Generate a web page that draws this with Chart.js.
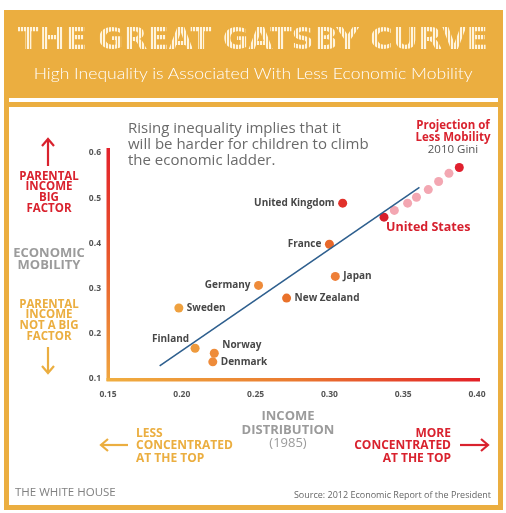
<!DOCTYPE html>
<html><head><meta charset="utf-8">
<script src="https://cdn.jsdelivr.net/npm/chart.js@4.4.0/dist/chart.umd.min.js"></script>
<style>
html,body{margin:0;padding:0;}
body{width:506px;height:513px;overflow:hidden;background:#fff;position:relative;font-family:"Open Sans",sans-serif;}
.abs{position:absolute;}
.t{position:absolute;white-space:nowrap;}
.b{font-weight:700;}
#title{left:0;top:20px;width:506px;text-align:center;font-family:"DejaVu Sans",sans-serif;font-weight:700;font-size:31px;line-height:36px;}
#title span{display:inline-block;color:transparent;background:repeating-linear-gradient(90deg,#fff4dc 0 2px,#EDB552 2px 3px);-webkit-background-clip:text;background-clip:text;transform-origin:center;}
#sub{left:0;top:62px;width:506px;text-align:center;color:#fff;font-family:Lato,sans-serif;font-weight:300;font-size:16.5px;line-height:22px;}
#sub span{display:inline-block;transform-origin:center;}
</style></head>
<body>
<div class="abs" style="left:4px;top:10px;width:499px;height:500px;background:#EBAE40"></div>
<div class="abs" style="left:9px;top:98px;width:489px;height:4px;background:#fff"></div>
<div class="abs" style="left:9px;top:107px;width:489px;height:398px;background:#fff"></div>
<canvas id="c" width="506" height="513" style="position:absolute;left:0;top:0"></canvas>

<div id="title" class="t"><span id="titleSpan">THE GREAT GATSBY CURVE</span></div>
<div id="sub" class="t"><span id="subSpan">High Inequality is Associated With Less Economic Mobility</span></div>

<div class="t" style="left:128px;top:119px;font-size:15px;line-height:16px;color:#6a6a6a;">Rising inequality implies that it<br>will be harder for children to climb<br>the economic ladder.</div>

<div class="t b" style="left:403px;width:100px;text-align:center;top:119px;font-size:11.5px;line-height:12px;color:#d9222e;">Projection of<br>Less Mobility</div>
<div class="t" style="left:403px;width:100px;text-align:center;top:143px;font-size:11.5px;line-height:12px;color:#555;">2010 Gini</div>

<svg class="abs" style="left:0;top:0" width="506" height="513">
  <g stroke="#d9222e" stroke-width="2.2" fill="none">
    <line x1="48" y1="166" x2="48" y2="140"/>
    <polyline points="42,146 48,139 54,146"/>
    <line x1="460" y1="445" x2="487" y2="445"/>
    <polyline points="481,439 488,445 481,451"/>
  </g>
  <g stroke="#EBAE40" stroke-width="2.2" fill="none">
    <line x1="48" y1="347" x2="48" y2="372"/>
    <polyline points="42,366 48,373 54,366"/>
    <line x1="102" y1="445" x2="128" y2="445"/>
    <polyline points="108,439 101,445 108,451"/>
  </g>
</svg>

<div class="t b" style="left:0;width:98px;text-align:center;top:170.5px;font-size:11.5px;line-height:10.7px;color:#d9222e;">PARENTAL<br>INCOME<br>BIG<br>FACTOR</div>
<div class="t b" style="left:0;width:98px;text-align:center;top:245.5px;font-size:13px;line-height:12.5px;color:#9b9b9b;">ECONOMIC<br>MOBILITY</div>
<div class="t b" style="left:0;width:98px;text-align:center;top:298.5px;font-size:11.5px;line-height:10.7px;color:#EBAE40;">PARENTAL<br>INCOME<br>NOT A BIG<br>FACTOR</div>

<div class="t" style="left:228px;width:120px;text-align:center;top:409px;font-size:13px;line-height:13.5px;color:#9b9b9b;"><span class="b">INCOME<br>DISTRIBUTION</span><br>(1985)</div>
<div class="t b" style="left:136px;top:427px;font-size:12px;line-height:12.3px;color:#EBAE40;">LESS<br>CONCENTRATED<br>AT THE TOP</div>
<div class="t b" style="left:331px;width:120px;text-align:right;top:427px;font-size:12px;line-height:12.3px;color:#d9222e;">MORE<br>CONCENTRATED<br>AT THE TOP</div>

<div class="t" style="left:15px;top:484px;font-size:11.5px;line-height:16px;color:#808080;">THE WHITE HOUSE</div>
<div class="t" style="left:291px;width:200px;text-align:right;top:488px;font-size:9px;line-height:14px;color:#666;">Source: 2012 Economic Report of the President</div>

<script>
// ---- data ----
const countries = ['Sweden','Finland','Norway','Denmark','Germany','New Zealand','Japan','France','United Kingdom'];
const gini1985 = [0.198,0.209,0.222,0.221,0.252,0.271,0.304,0.300,0.309];
const earningsElasticity = [0.257,0.168,0.157,0.138,0.307,0.279,0.327,0.398,0.489];
const countryColors = ['#EFA13F','#EE9A3D','#EE8C3A','#EE8B3A','#EE8B3A','#E9722B','#EE7F38','#E8682A','#E1302A'];
const labelSide = ['right','above-left','above-right','right','left','right','right','left','left'];

const usLabel = 'United States';
const usGini = [0.337];
const usElasticity = [0.458];

const projectionGini = [0.344,0.353,0.359,0.367,0.374,0.381,0.388];
const projectionElasticity = [0.473,0.489,0.502,0.519,0.537,0.555,0.568];
const projectionColors = ['#F3A7B2','#F3A7B2','#F3A7B2','#F3A7B2','#F3A7B2','#F3A7B2','#E0202E'];

const trendGini = [0.185,0.361];
const trendElasticity = [0.129,0.524];

const xTicks = [0.15,0.20,0.25,0.30,0.35,0.40];
const xTickLabels = ['0.15','0.20','0.25','0.30','0.35','0.40'];
const yTicks = [0.1,0.2,0.3,0.4,0.5,0.6];
const yTickLabels = ['0.1','0.2','0.3','0.4','0.5','0.6'];

// fit title texts
function fit(id, w){const el=document.getElementById(id);const r=el.getBoundingClientRect().width;el.style.transform='scaleX('+(w/r)+')';}
fit('titleSpan',470); fit('subSpan',439);

const zip = (xs,ys)=>xs.map((x,i)=>({x:x,y:ys[i]}));

const axisBars = {
  id:'axisBars',
  beforeDatasetsDraw(chart){
    const {ctx, chartArea:a} = chart;
    ctx.save();
    let g = ctx.createLinearGradient(0,a.top-5,0,a.bottom+2);
    g.addColorStop(0,'#E3212B'); g.addColorStop(0.45,'#E8552C'); g.addColorStop(1,'#F0A63F');
    ctx.fillStyle = g;
    ctx.fillRect(a.left-1.5,a.top-5,3.5,a.bottom-a.top+7);
    g = ctx.createLinearGradient(a.left,0,a.right+3,0);
    g.addColorStop(0,'#F0AE40'); g.addColorStop(0.5,'#EA7A30'); g.addColorStop(1,'#E21F26');
    ctx.fillStyle = g;
    ctx.fillRect(a.left-1.5,a.bottom-1,a.right-a.left+4.5,3.5);
    ctx.restore();
  }
};

const labels = {
  id:'labels',
  afterDatasetsDraw(chart){
    const ctx = chart.ctx;
    ctx.save();
    ctx.font = '700 10px "Open Sans"';
    ctx.fillStyle = '#474747';
    ctx.textBaseline = 'middle';
    chart.getDatasetMeta(1).data.forEach((p,i)=>{
      const s = labelSide[i];
      let x=p.x, y=p.y;
      if(s==='right'){ctx.textAlign='left'; x+=8;}
      else if(s==='left'){ctx.textAlign='right'; x-=8;}
      else if(s==='above-left'){ctx.textAlign='right'; x-=6; y-=9;}
      else if(s==='above-right'){ctx.textAlign='left'; x+=8; y-=8;}
      ctx.fillText(countries[i],x,y);
    });
    const us = chart.getDatasetMeta(2).data[0];
    ctx.font = '700 12.5px "Open Sans"';
    ctx.fillStyle = '#D6202E';
    ctx.textAlign='left';
    ctx.fillText(usLabel, us.x+2, us.y+10);
    ctx.restore();
  }
};

const tickFont = {family:'"Open Sans"', size:8.5, weight:'700'};

new Chart(document.getElementById('c'), {
  type:'scatter',
  data:{datasets:[
    {type:'line', data:zip(trendGini,trendElasticity), borderColor:'#2E5F8E', borderWidth:1.6, pointRadius:0, fill:false},
    {data:zip(gini1985,earningsElasticity), backgroundColor:countryColors, borderWidth:0, pointRadius:4.5},
    {data:zip(usGini,usElasticity), backgroundColor:'#D8202E', borderWidth:0, pointRadius:4.5},
    {data:zip(projectionGini,projectionElasticity), backgroundColor:projectionColors, borderWidth:0, pointRadius:4.5}
  ]},
  options:{
    responsive:false, animation:false, devicePixelRatio:1,
    layout:{padding:{top:153,right:29,left:0,bottom:0}},
    plugins:{legend:{display:false}, tooltip:{enabled:false}},
    scales:{
      x:{type:'linear', min:0.15, max:0.40,
        afterFit(s){s.height=134;},
        afterBuildTicks(s){s.ticks = xTicks.map(v=>({value:v}));},
        grid:{display:false, drawTicks:false}, border:{display:false},
        ticks:{padding:10, color:'#555', font:tickFont, maxRotation:0, autoSkip:false, callback:(v,i)=>xTickLabels[i]}},
      y:{type:'linear', min:0.1, max:0.6,
        afterFit(s){s.width=108;},
        afterBuildTicks(s){s.ticks = yTicks.map(v=>({value:v}));},
        grid:{display:false, drawTicks:false}, border:{display:false},
        ticks:{padding:7, color:'#555', font:tickFont, autoSkip:false, callback:(v,i)=>yTickLabels[i]}}
    }
  },
  plugins:[axisBars, labels]
});
</script>
</body></html>
